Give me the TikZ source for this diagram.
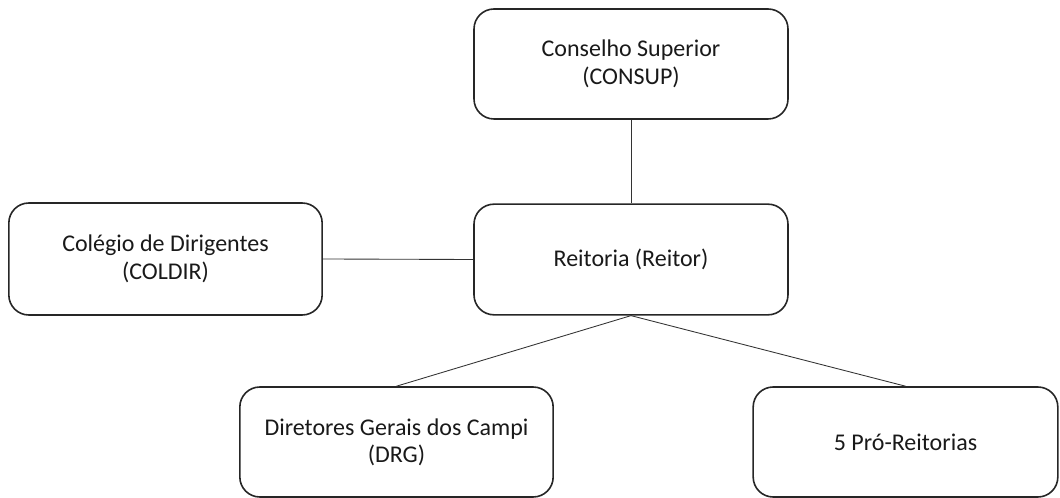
\documentclass[tikz,border=0pt]{standalone}
\usepackage{fontspec}
\setmainfont{Carlito}
\begin{document}
\begin{tikzpicture}[x=0.75pt,y=-0.75pt,
  box/.style={draw=black!85, line width=1.2pt, rounded corners=15pt, align=center,
    inner sep=0pt, font=\fontsize{18}{20.5}\selectfont, text=black!90},
  link/.style={draw=black!80, line width=0.65pt}]
\useasboundingbox (0,0) rectangle (1060,498);
\node[box, minimum width=235.5pt, minimum height=82.5pt] (consup) at (631,64) {Conselho Superior\\(CONSUP)};
\node[box, minimum width=235.5pt, minimum height=83pt] (reitoria) at (631,259.5) {Reitoria (Reitor)};
\node[box, minimum width=235pt, minimum height=84pt] (coldir) at (165.5,259) {Colégio de Dirigentes\\(COLDIR)};
\node[box, minimum width=235pt, minimum height=82.5pt] (drg) at (396.5,442) {Diretores Gerais dos Campi\\(DRG)};
\node[box, minimum width=228.5pt, minimum height=82.5pt] (pro) at (905.5,442) {5 Pró-Reitorias};
\draw[link] (consup.south) -- (reitoria.north);
\draw[link] (coldir.east) -- (reitoria.west);
\draw[link] (reitoria.south) -- (drg.north);
\draw[link] (reitoria.south) -- (pro.north);
\end{tikzpicture}
\end{document}
